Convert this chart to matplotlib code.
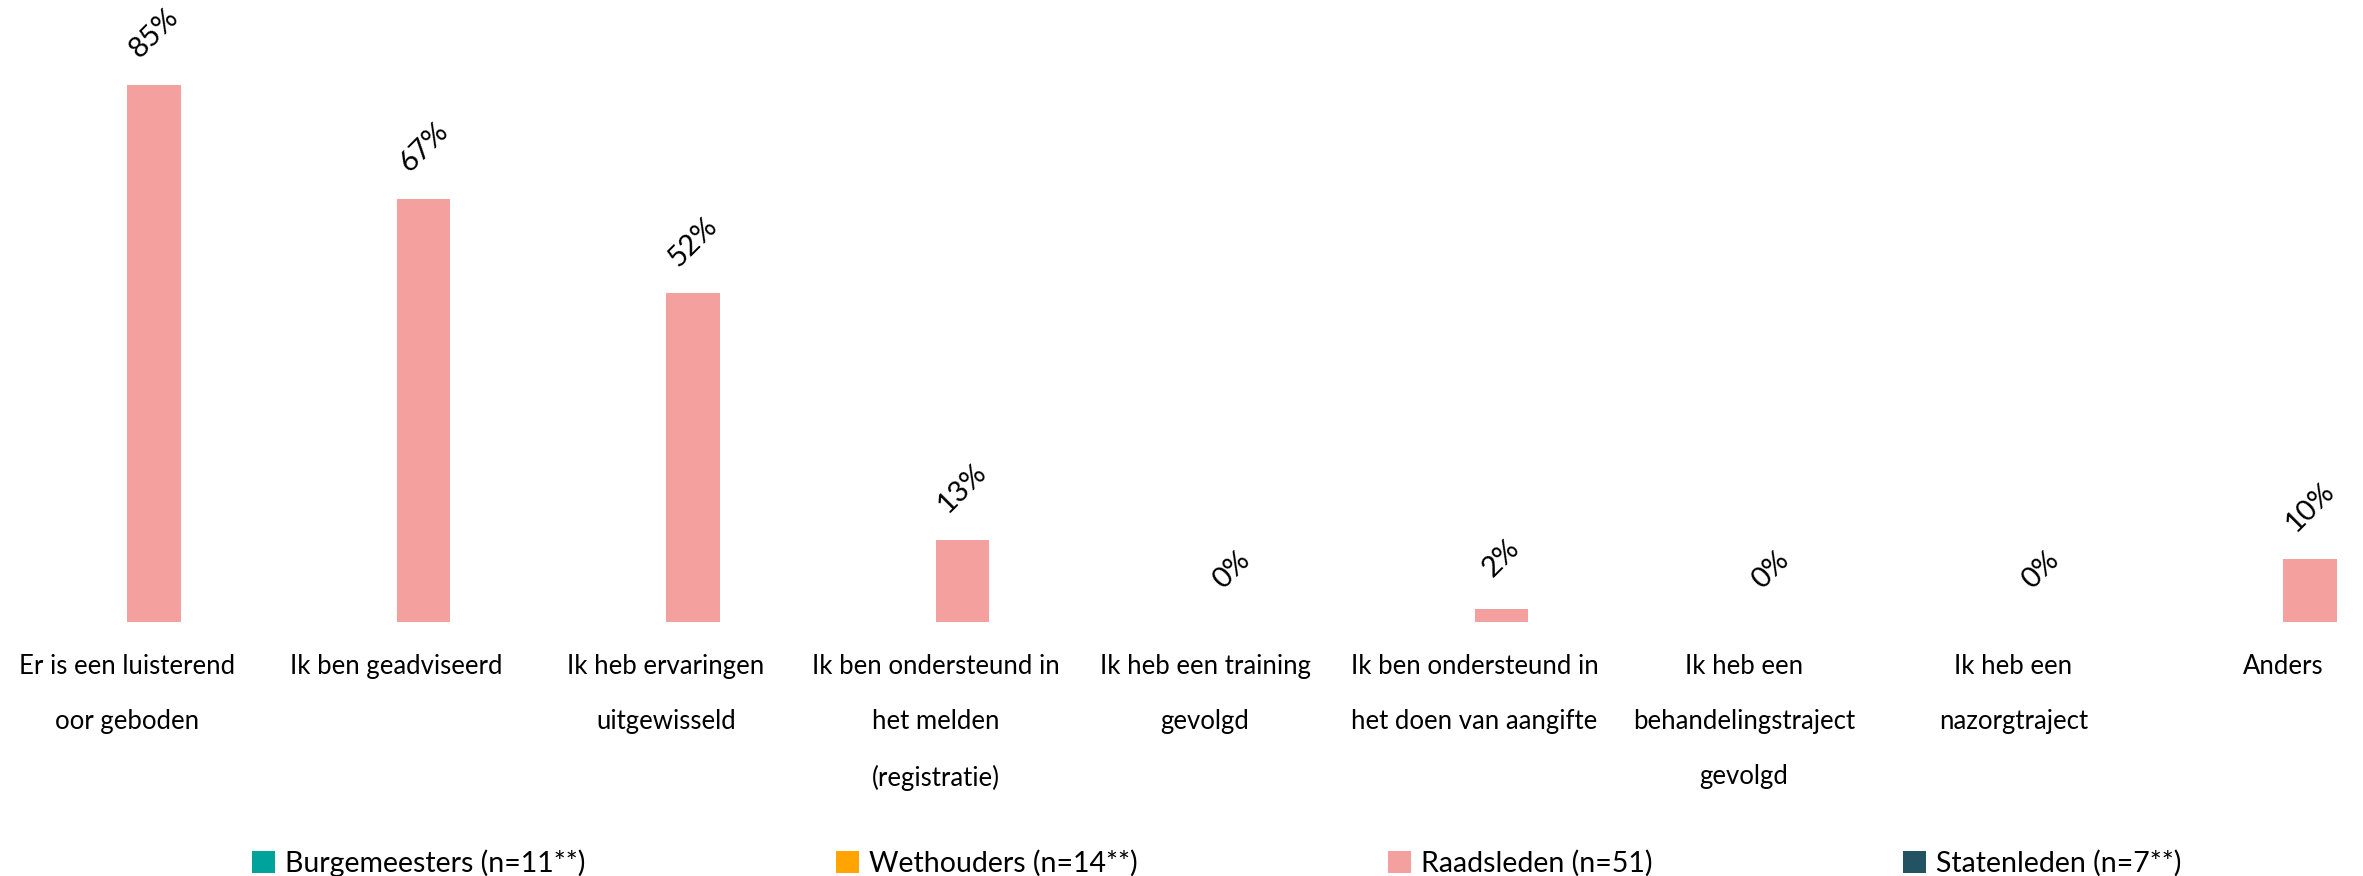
import numpy as np
import matplotlib
matplotlib.use("Agg")
import matplotlib.pyplot as plt
from matplotlib.patches import Patch

categories = [
    "Er is een luisterend\noor geboden",
    "Ik ben geadviseerd",
    "Ik heb ervaringen\nuitgewisseld",
    "Ik ben ondersteund in\nhet melden\n(registratie)",
    "Ik heb een training\ngevolgd",
    "Ik ben ondersteund in\nhet doen van aangifte",
    "Ik heb een\nbehandelingstraject\ngevolgd",
    "Ik heb een\nnazorgtraject",
    "Anders",
]
series_names = ["Burgemeesters (n=11**)", "Wethouders (n=14**)",
                "Raadsleden (n=51)", "Statenleden (n=7**)"]
burgemeesters = [np.nan] * 9
wethouders = [np.nan] * 9
raadsleden = [85, 67, 52, 13, 0, 2, 0, 0, 10]
statenleden = [np.nan] * 9
colors = ["#00A39B", "#FFA400", "#F4A09E", "#235363"]

W, H = 2363, 876
fig = plt.figure(figsize=(W / 100, H / 100), dpi=100)
fig.patch.set_facecolor("white")

spacing_px = 269.5
c0_px = 127.0
base_px = 621.7
px_per_pct = 6.314

ax = fig.add_axes([0, (H - base_px) / H, 1, base_px / H])
ax.set_xlim(-c0_px / spacing_px, (W - c0_px) / spacing_px)
ax.set_ylim(0, base_px / px_per_pct)

font = "Lato"
x = np.arange(len(categories))
bw = 0.2
all_series = [burgemeesters, wethouders, raadsleden, statenleden]
for j, (vals, col) in enumerate(zip(all_series, colors)):
    v = np.array(vals, dtype=float)
    ax.bar(x + (j - 2) * bw, np.nan_to_num(v, nan=0.0) if j == 2 else v,
           width=bw, align="edge", color=col, linewidth=0)
    if j == 2:
        for xi, vi in zip(x, v):
            if np.isnan(vi):
                continue
            ax.annotate(f"{int(vi)}%", xy=(xi + bw / 2, vi), xytext=(0, 37),
                        textcoords="offset points", rotation=45,
                        ha="center", va="center", rotation_mode="anchor",
                        fontsize=21, family=font, color="black")

ax.set_xticks(x)
ax.set_xticklabels(categories, fontsize=18.5, family=font, linespacing=2.5)
ax.tick_params(axis="x", length=0, pad=23)
ax.set_yticks([])
for s in ax.spines.values():
    s.set_visible(False)

handles = [Patch(facecolor=c, edgecolor="none") for c in colors]
leg = fig.legend(handles, series_names, loc="center",
                 bbox_to_anchor=(1216.5 / W, 13 / H), ncol=4, frameon=False,
                 prop={"family": font, "size": 20.5}, handlelength=0.81,
                 handleheight=0.81, handletextpad=0.35, columnspacing=8.8,
                 borderpad=0.0)

fig.savefig("out.png", dpi=100, facecolor="white")
